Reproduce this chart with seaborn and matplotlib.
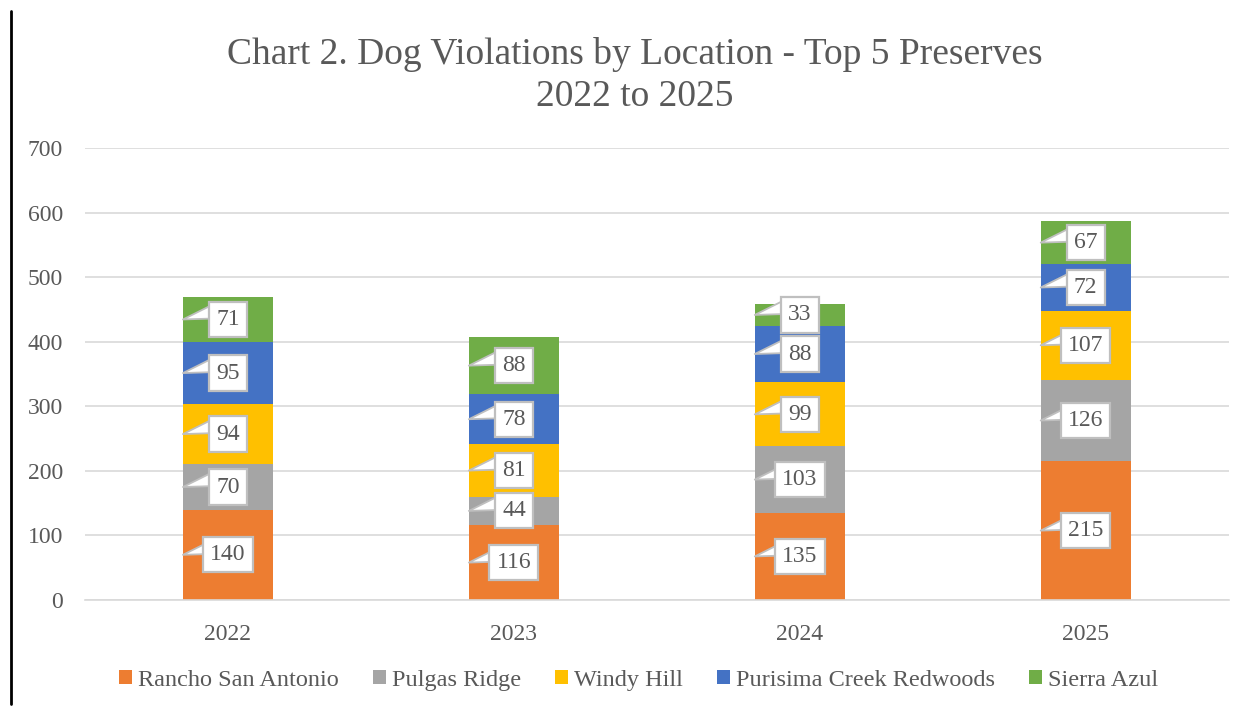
import numpy as np
import pandas as pd
import matplotlib
matplotlib.use("Agg")
import matplotlib.pyplot as plt
from matplotlib.lines import Line2D
import seaborn as sns

years = ["2022", "2023", "2024", "2025"]
preserves = ["Rancho San Antonio", "Pulgas Ridge", "Windy Hill",
             "Purisima Creek Redwoods", "Sierra Azul"]
rancho = [140, 116, 135, 215]
pulgas = [70, 44, 103, 126]
windy = [94, 81, 99, 107]
purisima = [95, 78, 88, 72]
sierra = [71, 88, 33, 67]
colors = ["#ED7D31", "#A5A5A5", "#FFC000", "#4472C4", "#70AD47"]

sns.set_theme(style="white")
plt.rcParams["font.family"] = ["Liberation Serif", "DejaVu Serif"]
txt = "#595959"
edge = "#BFBFBF"

fig = plt.figure(figsize=(12.54, 7.11), dpi=100)
ax = fig.add_axes([0.0678, 0.1561, 0.912, 0.6357])

bar_w = 0.315
bottom = np.zeros(len(years))
for name, vals, c in zip(preserves, [rancho, pulgas, windy, purisima, sierra], colors):
    df = pd.DataFrame({"year": years, "n": vals})
    sns.barplot(data=df, x="year", y="n", bottom=bottom, color=c, width=bar_w,
                ax=ax, label=name, saturation=1, edgecolor="none", zorder=2)
    for i, v in enumerate(vals):
        mid = bottom[i] + v / 2
        # callout pointer, starts inside the label box and points at the bar's left edge
        ax.annotate("", xy=(i - bar_w / 2, mid), xytext=(i - 0.05, mid + 12),
                    zorder=4,
                    arrowprops=dict(arrowstyle="wedge,tail_width=0.5,shrink_factor=0.5",
                                    mutation_scale=20, fc="white", ec=edge, lw=1.3,
                                    shrinkA=0, shrinkB=0, patchA=None))
        ax.text(i, mid, str(v), ha="center", va="center", fontsize=17, color=txt,
                zorder=5,
                bbox=dict(boxstyle="square,pad=0.3", fc="white", ec=edge, lw=1.6))
    bottom += np.array(vals)

ax.set_ylim(0, 700)
ax.set_xlim(-0.5, 3.5)
ax.set_yticks(range(0, 701, 100))
ax.yaxis.grid(True, color="#D9D9D9", lw=1.2, zorder=0)
ax.set_axisbelow(True)
for s in ["top", "right", "left"]:
    ax.spines[s].set_visible(False)
ax.spines["bottom"].set_color("#D9D9D9")
ax.spines["bottom"].set_linewidth(1.2)
ax.tick_params(axis="both", labelsize=17, colors=txt, length=0)
ax.tick_params(axis="x", pad=17)
ax.tick_params(axis="y", pad=16)
ax.set_xlabel("")
ax.set_ylabel("")

ax.legend(loc="center", bbox_to_anchor=(0.484, -0.177), ncol=5, frameon=False,
          fontsize=17.5, labelcolor=txt, handlelength=0.55, handleheight=0.55,
          handletextpad=0.25, columnspacing=1.38)

fig.text(0.506, 0.894, "Chart 2. Dog Violations by Location - Top 5 Preserves\n2022 to 2025",
         ha="center", va="center", fontsize=27, color=txt, linespacing=1.27)

fig.add_artist(Line2D([0.0085, 0.0085], [0.01, 0.985], color="black", lw=2,
                      transform=fig.transFigure))

fig.savefig("out.png", dpi=100)
